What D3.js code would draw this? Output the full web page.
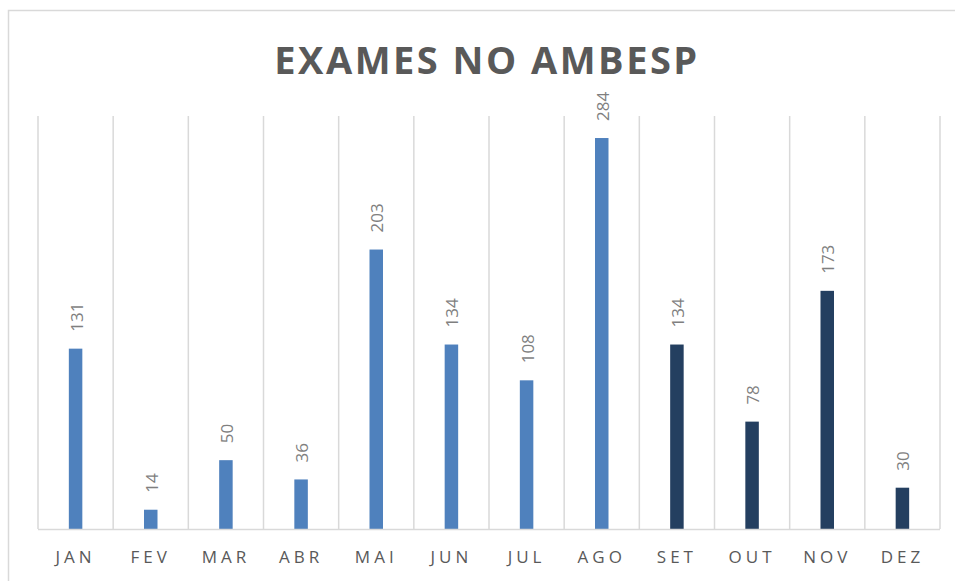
<!DOCTYPE html>
<html>
<head>
<meta charset="utf-8">
<script src="https://cdn.jsdelivr.net/npm/d3@7"></script>
<style>
  body { margin: 0; background: #fff; }
  svg { display: block; }
</style>
</head>
<body>
<div id="chart"></div>
<script>
// months and exam counts
const meses = ["JAN", "FEV", "MAR", "ABR", "MAI", "JUN", "JUL", "AGO", "SET", "OUT", "NOV", "DEZ"];
const exames = [131, 14, 50, 36, 203, 134, 108, 284, 134, 78, 173, 30];
// first 8 months light blue, the rest dark
const grupo = ["a", "a", "a", "a", "a", "a", "a", "a", "b", "b", "b", "b"];

const width = 955, height = 581;

const svg = d3.select("#chart")
  .append("svg")
    .attr("width", width)
    .attr("height", height);

// chart frame
svg.append("rect")
  .attr("x", 8.5).attr("y", 10.5)
  .attr("width", 960).attr("height", 600)
  .attr("fill", "#fff")
  .attr("stroke", "#d9d9d9")
  .attr("stroke-width", 1.5);

svg.append("text")
  .attr("x", 487)
  .attr("y", 74)
  .attr("text-anchor", "middle")
  .attr("fill", "#595959")
  .attr("font-family", "'Open Sans', sans-serif")
  .attr("font-weight", "bold")
  .attr("font-size", 38)
  .attr("letter-spacing", 2.5)
  .text("EXAMES NO AMBESP");

const x = d3.scaleBand()
  .domain(meses)
  .range([38, 940]);

const y = d3.scaleLinear()
  .domain([0, 300])
  .range([529, 116]);

const cor = d3.scaleOrdinal()
  .domain(["a", "b"])
  .range(["#4f81bd", "#243f60"]);

// vertical separators between months
svg.selectAll(".sep")
  .data(d3.range(meses.length + 1))
  .enter()
  .append("line")
    .attr("x1", i => 38 + i * x.step())
    .attr("x2", i => 38 + i * x.step())
    .attr("y1", y(300))
    .attr("y2", y(0))
    .attr("stroke", "#d9d9d9")
    .attr("stroke-width", 1.5);

const barW = 13.5;

svg.selectAll(".bar")
  .data(exames)
  .enter()
  .append("rect")
    .attr("x", (d, i) => x(meses[i]) + x.bandwidth() / 2 - barW / 2)
    .attr("y", d => y(d))
    .attr("width", barW)
    .attr("height", d => y(0) - y(d))
    .attr("fill", (d, i) => cor(grupo[i]));

// baseline
svg.append("line")
  .attr("x1", 38).attr("x2", 940)
  .attr("y1", y(0) + 0.5).attr("y2", y(0) + 0.5)
  .attr("stroke", "#d9d9d9")
  .attr("stroke-width", 1.5);

// value labels, rotated
svg.selectAll(".val")
  .data(exames)
  .enter()
  .append("text")
    .attr("transform", (d, i) => `translate(${x(meses[i]) + x.bandwidth() / 2 + 7},${y(d) - 17}) rotate(-90)`)
    .attr("fill", "#7f7f7f")
    .attr("font-family", "'Open Sans', sans-serif")
    .attr("font-size", 17)
    .text(d => d);

// month labels
const axeX = d3.axisBottom(x).tickSize(0).tickPadding(22);
const gx = svg.append("g")
  .attr("transform", `translate(0,${y(0)})`)
  .call(axeX);
gx.select(".domain").remove();
gx.selectAll("text")
  .attr("fill", "#595959")
  .attr("font-family", "'Open Sans', sans-serif")
  .attr("font-size", 17)
  .attr("letter-spacing", 4);
</script>
</body>
</html>
